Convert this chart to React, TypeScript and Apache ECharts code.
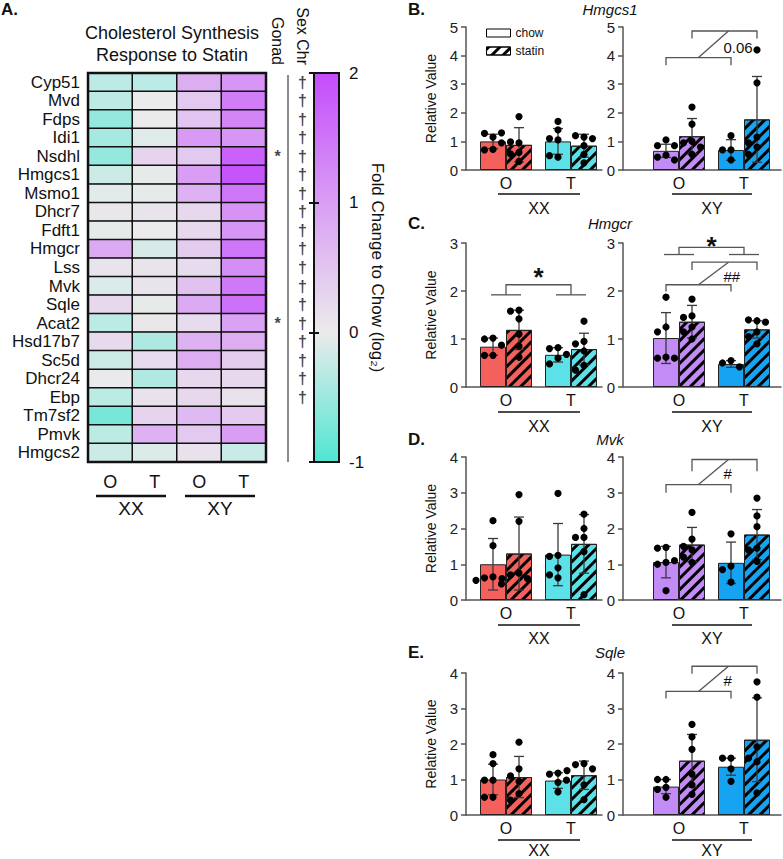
import React, { useEffect, useRef } from 'react';
import * as echarts from 'echarts';

// ---------- Panel A: heatmap data (log2 fold change to chow) ----------
const GENES = ['Cyp51', 'Mvd', 'Fdps', 'Idi1', 'Nsdhl', 'Hmgcs1', 'Msmo1', 'Dhcr7', 'Fdft1', 'Hmgcr', 'Lss', 'Mvk', 'Sqle', 'Acat2', 'Hsd17b7', 'Sc5d', 'Dhcr24', 'Ebp', 'Tm7sf2', 'Pmvk', 'Hmgcs2'];
const HEAT_COLUMNS = ['XX-O', 'XX-T', 'XY-O', 'XY-T'];
const FC_XX_O = [-0.3, -0.3, -0.55, -0.45, -0.55, -0.2, -0.05, 0.05, -0.03, 0.85, 0.1, -0.1, 0.25, -0.3, 0.22, -0.2, 0.03, -0.3, -0.75, -0.3, -0.2];
const FC_XX_T = [-0.3, 0, 0, -0.08, 0.3, -0.03, -0.03, 0.1, 0, -0.12, 0.1, 0.1, -0.03, 0.05, -0.4, 0.2, -0.38, 0.12, 0.3, 0.75, -0.1];
const FC_XY_O = [0.8, 0.45, 0.5, 1.05, 0.45, 1.0, 0.75, 0.25, 0.25, 0.4, 0.2, 0.55, 0.85, 0.2, 0.75, 0.8, 0.25, 0.25, 0.65, 0.45, 0.12];
const FC_XY_T = [1.1, 1.4, 1.3, 1.1, 1.75, 1.9, 1.5, 1.15, 1.1, 1.5, 1.2, 1.45, 1.55, 0.95, 0.8, 0.4, 0.25, 0.12, 0.45, 1.0, -0.22];
const GONAD_SIG = ['Nsdhl', 'Acat2'];
const SEX_CHR_SIG = ['Cyp51', 'Mvd', 'Fdps', 'Idi1', 'Nsdhl', 'Hmgcs1', 'Msmo1', 'Dhcr7', 'Fdft1', 'Hmgcr', 'Lss', 'Mvk', 'Sqle', 'Acat2', 'Hsd17b7', 'Sc5d', 'Dhcr24', 'Ebp'];

// ---------- Panels B-E: order = [O chow, O statin, T chow, T statin] ----------
const GROUPS = ['O', 'T'];
const HMGCS1_XX_MEAN = [1.0, 0.88, 1.0, 0.85];
const HMGCS1_XX_SD = [0.25, 0.6, 0.45, 0.4];
const HMGCS1_XX_DOTS = [[1.15, 1.28, 1.3, 0.72, 0.7, 0.95], [1.87, 0.95, 0.98, 0.62, 0.3, 0.56], [1.7, 1.4, 1.05, 1.1, 0.45, 0.5], [1.15, 1.2, 1.1, 0.85, 0.55, 0.25]];
const HMGCS1_XY_MEAN = [0.67, 1.18, 0.7, 1.77];
const HMGCS1_XY_SD = [0.23, 0.62, 0.36, 1.5];
const HMGCS1_XY_DOTS = [[1.05, 0.85, 0.85, 0.52, 0.45, 0.35], [2.2, 1.6, 1.0, 0.95, 0.55, 0.8], [1.2, 0.7, 0.7, 0.35], [4.2, 3.05, 1.15, 0.95, 0.8, 0.55]];

const HMGCR_XX_MEAN = [0.84, 1.19, 0.67, 0.79];
const HMGCR_XX_SD = [0.18, 0.41, 0.15, 0.33];
const HMGCR_XX_DOTS = [[1.02, 1.0, 0.87, 0.66, 0.66], [1.6, 1.58, 1.42, 1.1, 0.85, 0.62], [0.82, 0.8, 0.68, 0.6, 0.48], [1.37, 0.95, 0.9, 0.75, 0.45, 0.35]];
const HMGCR_XY_MEAN = [1.02, 1.36, 0.48, 1.2];
const HMGCR_XY_SD = [0.53, 0.34, 0.07, 0.18];
const HMGCR_XY_DOTS = [[1.87, 1.25, 1.15, 0.62, 0.6, 0.6], [1.83, 1.48, 1.45, 1.25, 1.15, 1.0], [0.55, 0.5, 0.42], [1.38, 1.4, 1.35, 1.15, 1.05, 0.9]];

const MVK_XX_MEAN = [1.0, 1.3, 1.27, 1.57];
const MVK_XX_SD = [0.72, 1.02, 0.87, 0.82];
const MVK_XX_DOTS = [[2.22, 1.52, 0.65, 0.62, 0.45, 0.55], [2.95, 2.2, 0.75, 0.7, 0.6, 0.6], [2.98, 1.25, 1.22, 0.9, 0.7, 0.62], [2.4, 2.0, 1.75, 1.75, 1.35, 0.15]];
const MVK_XY_MEAN = [1.06, 1.55, 1.04, 1.83];
const MVK_XY_SD = [0.44, 0.48, 0.58, 0.7];
const MVK_XY_DOTS = [[1.47, 1.45, 1.05, 1.0, 1.1, 0.26], [2.45, 1.7, 1.5, 1.4, 1.2, 1.05], [1.85, 0.95, 0.85, 0.5], [2.85, 2.35, 2.05, 1.45, 1.4, 1.08]];

const SQLE_XX_MEAN = [1.0, 1.07, 0.97, 1.12];
const SQLE_XX_SD = [0.43, 0.58, 0.22, 0.4];
const SQLE_XX_DOTS = [[1.7, 1.45, 0.98, 0.98, 0.5, 0.5], [2.05, 1.3, 1.1, 0.95, 0.6, 0.42], [1.18, 1.15, 0.98, 0.92, 0.65], [1.45, 1.42, 1.3, 1.25, 0.85, 0.43]];
const SQLE_XY_MEAN = [0.8, 1.53, 1.36, 2.12];
const SQLE_XY_SD = [0.2, 0.74, 0.24, 1.18];
const SQLE_XY_DOTS = [[1.0, 1.0, 0.78, 0.72, 0.5], [2.55, 2.2, 1.85, 1.15, 0.85, 0.58], [1.6, 1.6, 1.3, 0.95], [3.75, 3.32, 1.92, 1.5, 1.6, 0.62]];

// significance marks: [bracket y, leg end y] in data units
const HMGCS1_XY_MARKS = { chow: [3.93, 3.66], statin: [4.86, 4.6], note: ['0.06', 4.3] };
const HMGCR_XX_MARKS = { group: [2.13, 1.92], star: 2.41 };
const HMGCR_XY_MARKS = { group: [2.91, 2.76], star: 3.07, chow: [2.13, 1.99], statin: [2.6, 2.44], note: ['##', 2.3] };
const MVK_XY_MARKS = { chow: [3.23, 3.0], statin: [3.93, 3.6], note: ['#', 3.53] };
const SQLE_XY_MARKS = { chow: [3.48, 3.28], statin: [4.19, 3.98], note: ['#', 3.79] };

// ---------- styling / layout ----------
const FONT = '"Liberation Sans", Arial, Helvetica, sans-serif';
const INK = '#111';
const GREY = '#555';
const COLORS: Record<string, string[]> = { XX: ['#f4605c', '#5de1e8'], XY: ['#c28bf5', '#16a3f2'] };
const HATCH = { symbol: 'rect', symbolSize: 1, color: '#000', dashArrayX: [1, 0], dashArrayY: [2.2, 4.6], rotation: -Math.PI / 4 };

const PANELS = [
  { letter: 'B.', gene: 'Hmgcs1', top: 27, height: 143, max: 5, titleY: 9, under: 194, xxY: 208, XX: [HMGCS1_XX_MEAN, HMGCS1_XX_SD, HMGCS1_XX_DOTS, null], XY: [HMGCS1_XY_MEAN, HMGCS1_XY_SD, HMGCS1_XY_DOTS, HMGCS1_XY_MARKS] },
  { letter: 'C.', gene: 'Hmgcr', top: 243, height: 144, max: 3, titleY: 223, under: 412, xxY: 426, XX: [HMGCR_XX_MEAN, HMGCR_XX_SD, HMGCR_XX_DOTS, HMGCR_XX_MARKS], XY: [HMGCR_XY_MEAN, HMGCR_XY_SD, HMGCR_XY_DOTS, HMGCR_XY_MARKS] },
  { letter: 'D.', gene: 'Mvk', top: 457, height: 143, max: 4, titleY: 439, under: 625, xxY: 638, XX: [MVK_XX_MEAN, MVK_XX_SD, MVK_XX_DOTS, null], XY: [MVK_XY_MEAN, MVK_XY_SD, MVK_XY_DOTS, MVK_XY_MARKS] },
  { letter: 'E.', gene: 'Sqle', top: 673, height: 142, max: 4, titleY: 652, under: 840, xxY: 850, XX: [SQLE_XX_MEAN, SQLE_XX_SD, SQLE_XX_DOTS, null], XY: [SQLE_XY_MEAN, SQLE_XY_SD, SQLE_XY_DOTS, SQLE_XY_MARKS] },
];
const HALVES = [
  { key: 'XX', frameL: 466, frameR: 602, barL: 473.5, underL: 498, underR: 580, labelX: 539 },
  { key: 'XY', frameL: 623, frameR: 781, barL: 646.5, underL: 672, underR: 752, labelX: 712 },
];

function swarm(ys: number[], step: number, minD: number): number[] {
  const placed: number[][] = [];
  const order = [0, -1, 1, -2, 2];
  return ys.map((y) => {
    let chosen = 0;
    for (const k of order) {
      const x = k * step;
      if (placed.every(([px, py]) => Math.hypot(px - x, py - y) >= minD)) { chosen = x; break; }
    }
    placed.push([chosen, y]);
    return chosen;
  });
}

function errorRenderer(dots: number[][]) {
  return (params: any, api: any) => {
    const cat = api.value(0), slot = api.value(1), mean = api.value(2), sd = api.value(3);
    const catW = api.size([1, 0])[0];
    const barW = catW * 0.4;
    const x = api.coord([cat, 0])[0] + (slot ? barW / 2 : -barW / 2);
    const yT = api.coord([cat, mean + sd])[1];
    const yB = api.coord([cat, Math.max(0, mean - sd)])[1];
    const st = { stroke: '#3a3a3a', lineWidth: 1.3 };
    const children: any[] = [
      { type: 'line', shape: { x1: x, y1: yT, x2: x, y2: yB }, style: st },
      { type: 'line', shape: { x1: x - 5, y1: yT, x2: x + 5, y2: yT }, style: st },
      { type: 'line', shape: { x1: x - 5, y1: yB, x2: x + 5, y2: yB }, style: st },
    ];
    const vals = dots[params.dataIndex];
    const ys = vals.map((v) => api.coord([cat, v])[1]);
    const xs = swarm(ys, 8.5, 7.4);
    ys.forEach((y, i) => children.push({ type: 'circle', shape: { cx: x + xs[i], cy: y, r: 3.6 }, style: { fill: '#000' } }));
    return { type: 'group', children };
  };
}

function marksRenderer(marks: any) {
  return (_params: any, api: any) => {
    const catW = api.size([1, 0])[0];
    const barW = catW * 0.4;
    const cx = (c: number) => api.coord([c, 0])[0];
    const bx = (c: number, s: number) => cx(c) + (s ? barW / 2 : -barW / 2);
    const py = (v: number) => api.coord([0, v])[1];
    const style = { stroke: GREY, lineWidth: 1.3, fill: null };
    const kids: any[] = [];
    const bracket = (x1: number, x2: number, y: number, d: number) => {
      kids.push({ type: 'polyline', shape: { points: [[x1, py(d)], [x1, py(y)], [x2, py(y)], [x2, py(d)]] }, style });
    };
    if (marks.group) {
      const [y, d] = marks.group;
      const x1 = cx(0), x2 = cx(1);
      bracket(x1, x2, y, d);
      [x1, x2].forEach((x) => kids.push({ type: 'line', shape: { x1: x - 15, y1: py(d), x2: x + 15, y2: py(d) }, style }));
      kids.push({ type: 'text', x: (x1 + x2) / 2, y: py(marks.star) + 6, style: { text: '*', fontSize: 26, fontWeight: 'bold', fontFamily: FONT, fill: INK, align: 'center', verticalAlign: 'middle' } });
    }
    let cm = 0, sm = 0;
    if (marks.chow) {
      const x1 = bx(0, 0), x2 = bx(1, 0);
      bracket(x1, x2, marks.chow[0], marks.chow[1]);
      cm = (x1 + x2) / 2;
    }
    if (marks.statin) {
      const x1 = bx(0, 1), x2 = bx(1, 1);
      bracket(x1, x2, marks.statin[0], marks.statin[1]);
      sm = (x1 + x2) / 2;
    }
    if (marks.chow && marks.statin) {
      kids.push({ type: 'line', shape: { x1: cm, y1: py(marks.chow[0]), x2: sm + 4, y2: py(marks.statin[0]) }, style });
    }
    if (marks.note) {
      kids.push({ type: 'text', x: sm - 1, y: py(marks.note[1]), style: { text: marks.note[0], fontSize: 15, fontFamily: FONT, fill: INK, align: 'left', verticalAlign: 'middle' } });
    }
    return { type: 'group', children: kids };
  };
}

const txt = (x: number, y: number, text: string, size: number, extra: any = {}) => ({
  type: 'text', x, y, silent: true,
  style: { text, fontSize: size, fontFamily: FONT, fill: INK, align: 'center', verticalAlign: 'middle', ...extra },
});
const ln = (x1: number, y1: number, x2: number, y2: number, w: number, color = INK) => ({
  type: 'line', silent: true, shape: { x1, y1, x2, y2 }, style: { stroke: color, lineWidth: w },
});

function buildOption() {
  const grid: any[] = [];
  const xAxis: any[] = [];
  const yAxis: any[] = [];
  const series: any[] = [];
  const graphic: any[] = [];

  // --- heatmap (grid 0) ---
  const heatCols = [FC_XX_O, FC_XX_T, FC_XY_O, FC_XY_T];
  const heatData: number[][] = [];
  heatCols.forEach((col, ci) => col.forEach((v, gi) => heatData.push([ci, gi, v])));
  grid.push({ left: 88, top: 73, width: 178, height: 389, show: true, borderColor: INK, borderWidth: 2.5, backgroundColor: 'transparent', z: 3 });
  xAxis.push({
    gridIndex: 0, type: 'category', data: HEAT_COLUMNS,
    axisLine: { lineStyle: { color: INK, width: 2 } },
    axisTick: { alignWithLabel: true, interval: 0, length: 6, lineStyle: { color: INK, width: 2 } },
    axisLabel: { interval: 0, formatter: (v: string) => v.split('-')[1], fontSize: 18, color: INK, margin: 11 },
  });
  yAxis.push({
    gridIndex: 0, type: 'category', data: GENES, inverse: true,
    axisLine: { lineStyle: { color: INK, width: 2 } },
    axisTick: { interval: 0, length: 5, lineStyle: { color: INK, width: 2 } },
    axisLabel: { interval: 0, fontSize: 17, color: INK, margin: 8 },
  });
  series.push({ type: 'heatmap', xAxisIndex: 0, yAxisIndex: 0, data: heatData, itemStyle: { borderColor: INK, borderWidth: 1.5 }, emphasis: { disabled: true } });

  // --- significance columns (grid 1) ---
  grid.push({ left: 265, top: 73, width: 50, height: 389 });
  xAxis.push({
    gridIndex: 1, type: 'category', data: ['Gonad', 'Sex Chr'], position: 'top',
    axisLine: { show: false }, axisTick: { show: false },
    axisLabel: { interval: 0, rotate: 90, fontSize: 16, color: INK, margin: 8 },
  });
  yAxis.push({ gridIndex: 1, type: 'category', data: GENES, inverse: true, show: false });
  const sigData: any[] = [];
  GONAD_SIG.forEach((g) => sigData.push([0, GENES.indexOf(g), '*']));
  SEX_CHR_SIG.forEach((g) => sigData.push([1, GENES.indexOf(g), '†']));
  series.push({
    type: 'scatter', xAxisIndex: 1, yAxisIndex: 1, data: sigData, symbolSize: 0.1,
    itemStyle: { color: 'transparent' },
    label: { show: true, position: 'inside', formatter: (p: any) => p.value[2], color: INK, fontSize: 16, fontWeight: 'bold' },
  });

  // --- colour bar axis (grid 2) ---
  grid.push({ left: 314, top: 73, width: 25, height: 389, show: true, borderColor: INK, borderWidth: 2, backgroundColor: 'transparent', z: 6 });
  xAxis.push({ gridIndex: 2, type: 'value', show: false });
  yAxis.push({
    gridIndex: 2, type: 'value', position: 'right', min: -1, max: 2, interval: 1, z: 6,
    axisLine: { show: false }, splitLine: { show: false },
    axisTick: { show: true, inside: true, length: 5, lineStyle: { color: INK, width: 2 } },
    axisLabel: { fontSize: 17, color: INK, margin: 10 },
    name: 'Fold Change to Chow (log₂)', nameLocation: 'middle', nameRotate: -90, nameGap: 30,
    nameTextStyle: { fontSize: 17, color: INK },
  });
  yAxis.push({
    gridIndex: 2, type: 'value', position: 'left', min: -1, max: 2, interval: 1, z: 6,
    axisLine: { show: false }, splitLine: { show: false }, axisLabel: { show: false },
    axisTick: { show: true, inside: true, length: 5, lineStyle: { color: INK, width: 2 } },
  });

  graphic.push(txt(1, 9, 'A.', 17, { align: 'left', fontWeight: 'bold' }));
  graphic.push(txt(172, 44, 'Cholesterol Synthesis\nResponse to Statin', 18, { lineHeight: 22 }));
  graphic.push(ln(288, 75, 288, 462, 1.5, '#666'));
  graphic.push(ln(96, 496, 166, 496, 2.5), ln(185, 496, 255, 496, 2.5));
  graphic.push(txt(131, 508, 'XX', 19), txt(220, 508, 'XY', 19));

  // --- bar panels ---
  PANELS.forEach((p) => {
    graphic.push(txt(408, p.titleY, p.letter, 17, { align: 'left', fontWeight: 'bold' }));
    graphic.push(txt(610, p.titleY, p.gene, 15, { fontStyle: 'italic' }));
    HALVES.forEach((h) => {
      const [mean, sd, dots, marks] = (p as any)[h.key];
      const [cO, cT] = COLORS[h.key];
      // frame grid (axes)
      const fg = grid.length;
      grid.push({ left: h.frameL, top: p.top, width: h.frameR - h.frameL, height: p.height });
      xAxis.push({ gridIndex: fg, type: 'value', min: 0, max: 1, axisLine: { show: true, lineStyle: { color: GREY, width: 1.5 } }, axisTick: { show: false }, axisLabel: { show: false }, splitLine: { show: false } });
      yAxis.push({
        gridIndex: fg, type: 'value', min: 0, max: p.max, interval: 1,
        axisLine: { show: true, lineStyle: { color: GREY, width: 1.5 } },
        axisTick: { show: true, length: 5, lineStyle: { color: GREY, width: 1.5 } },
        axisLabel: { fontSize: 15, color: '#222', margin: 8 }, splitLine: { show: false },
        name: h.key === 'XX' ? 'Relative Value' : '', nameLocation: 'middle', nameGap: 28,
        nameTextStyle: { fontSize: 14, color: INK },
      });
      // bar grid
      const bg = grid.length;
      grid.push({ left: h.barL, top: p.top, width: 130, height: p.height });
      const xi = xAxis.length;
      xAxis.push({ gridIndex: bg, type: 'category', data: GROUPS, axisLine: { show: false }, axisTick: { show: false }, axisLabel: { fontSize: 16, color: INK, margin: 5 } });
      const yi = yAxis.length;
      yAxis.push({ gridIndex: bg, type: 'value', min: 0, max: p.max, show: false });
      series.push({
        type: 'bar', name: 'chow', xAxisIndex: xi, yAxisIndex: yi, barGap: '0%', barCategoryGap: '20%',
        itemStyle: { borderColor: '#222', borderWidth: 1 },
        data: [{ value: mean[0], itemStyle: { color: cO } }, { value: mean[2], itemStyle: { color: cT } }],
      });
      series.push({
        type: 'bar', name: 'statin', xAxisIndex: xi, yAxisIndex: yi, barGap: '0%', barCategoryGap: '20%',
        itemStyle: { borderColor: '#222', borderWidth: 1, decal: HATCH },
        data: [{ value: mean[1], itemStyle: { color: cO } }, { value: mean[3], itemStyle: { color: cT } }],
      });
      series.push({
        type: 'custom', xAxisIndex: xi, yAxisIndex: yi, clip: false, z: 4,
        data: [0, 1, 2, 3].map((k) => [k >> 1, k & 1, mean[k], sd[k]]),
        encode: { x: 0, y: 2 },
        renderItem: errorRenderer(dots),
      });
      if (marks) {
        series.push({ type: 'custom', xAxisIndex: xi, yAxisIndex: yi, clip: false, z: 4, data: [[0, 0]], encode: { x: 0, y: 1 }, renderItem: marksRenderer(marks) });
      }
      graphic.push(ln(h.underL, p.under, h.underR, p.under, 1.5));
      graphic.push(txt(h.labelX, p.xxY, h.key, 16));
    });
  });

  return {
    animation: false,
    backgroundColor: '#fff',
    textStyle: { fontFamily: FONT },
    grid, xAxis, yAxis, series, graphic,
    visualMap: {
      type: 'continuous', seriesIndex: 0, min: -1, max: 2, calculable: false, orient: 'vertical',
      left: 314, top: 73, itemWidth: 25, itemHeight: 389, padding: 0, hoverLink: false,
      inRange: { color: ['#4fe6d2', '#ebebeb', '#d99ef4', '#c44cfc'] },
    },
    legend: {
      data: [
        { name: 'chow', itemStyle: { color: '#fff', borderColor: '#000', borderWidth: 1 } },
        { name: 'statin', itemStyle: { color: '#fff', borderColor: '#000', borderWidth: 1, decal: HATCH } },
      ],
      left: 486, top: 26, orient: 'vertical', icon: 'rect', itemWidth: 24, itemHeight: 8, itemGap: 4,
      padding: 0, selectedMode: false, textStyle: { fontSize: 12, color: INK, lineHeight: 14 },
    },
  };
}

export default function App() {
  const ref = useRef<HTMLDivElement>(null);
  useEffect(() => {
    document.body.style.margin = '0';
    if (!ref.current) return;
    const chart = echarts.init(ref.current, undefined, { renderer: 'svg' });
    chart.setOption(buildOption() as any);
    return () => chart.dispose();
  }, []);
  return <div ref={ref} style={{ width: 783, height: 859 }} />;
}
